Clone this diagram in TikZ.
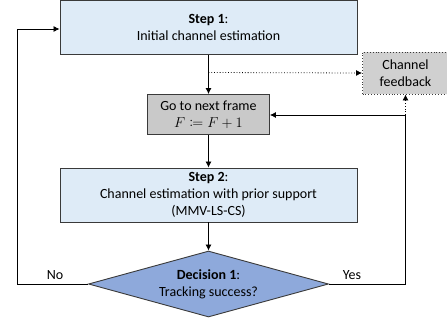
\documentclass[tikz,border=0pt]{standalone}
\usepackage{mathtools}
\usepackage{fontspec}
\setmainfont{Carlito}
\usetikzlibrary{shapes.geometric,arrows.meta}
\definecolor{stepfill}{HTML}{DEEBF7}
\definecolor{gofill}{HTML}{C9C9C9}
\definecolor{fbfill}{HTML}{D0D0D0}
\definecolor{decfill}{HTML}{8EA9DB}
\definecolor{edge}{HTML}{3A3A3A}
\tikzset{
  stepbox/.style={draw=edge, line width=0.9pt, fill=stepfill, minimum width=297pt, align=center, inner sep=0pt},
  gobox/.style={draw=edge, line width=0.9pt, fill=gofill, minimum width=122pt, minimum height=40pt, align=center, inner sep=0pt},
  fbbox/.style={draw=edge, dotted, line width=0.9pt, fill=fbfill, minimum width=86pt, minimum height=42pt, align=center, inner sep=0pt},
  decbox/.style={diamond, draw=edge, line width=0.9pt, fill=decfill, minimum width=240pt, minimum height=66pt, aspect=3.6, inner sep=0pt, align=center},
  conn/.style={line width=0.8pt, -{Latex[length=6pt,width=6pt]}},
  dconn/.style={line width=0.8pt, dotted, -{Latex[length=6pt,width=6pt]}},
  plain/.style={line width=0.8pt}
}
\begin{document}
\begin{tikzpicture}[x=1pt,y=-1pt, font=\fontsize{14}{17}\selectfont]
\useasboundingbox (0,0) rectangle (447,324);
\node[stepbox, minimum height=54pt] (s1) at (208.5,27.3) {\textbf{Step 1}:\\Initial channel estimation};
\node[fbbox] (fb) at (405.5,73) {Channel\\feedback};
\node[gobox] (go) at (208.5,114.5) {Go to next frame\\$F \coloneqq F+1$};
\node[stepbox, minimum height=54pt] (s2) at (208.5,195) {\textbf{Step 2}:\\Channel estimation with prior support\\(MMV-LS-CS)};
\node[decbox] (d1) at (208.5,284) {\textbf{Decision 1}:\\Tracking success?};
\coordinate (tap) at (208.5,72.5);
\coordinate (rc) at (405.5,115);
\coordinate (rb) at (405.5,284);
\coordinate (lb) at (17.5,284);
\coordinate (lt) at (17.5,29);
\draw[conn] (s1.south) -- (go.north);
\draw[dconn] (tap) -- (fb.west);
\draw[conn] (go.south) -- (s2.north);
\draw[conn] (s2.south) -- (d1.north);
\draw[plain] (d1.east) -- (rb) -- (rc);
\draw[conn] (rc) -- (go.east |- rc);
\draw[dconn] (rc) -- (fb.south);
\draw[conn] (d1.west) -- (lb) -- (lt) -- (s1.west |- lt);
\node[anchor=base] (no) at (55,279) {No};
\node[anchor=base] (yes) at (352,279) {Yes};
\end{tikzpicture}
\end{document}
